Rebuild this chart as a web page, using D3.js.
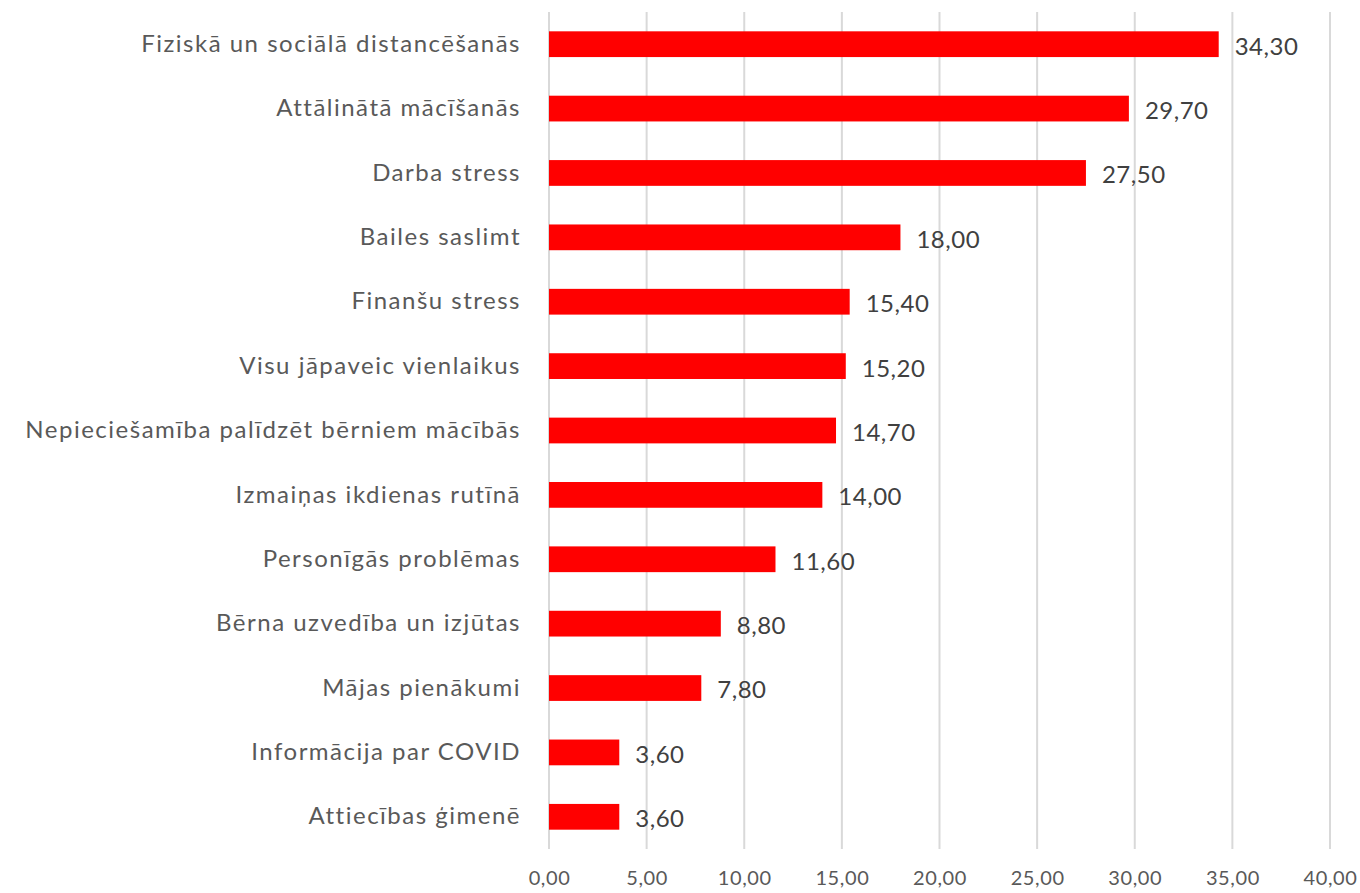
<!DOCTYPE html>
<html>
<head>
<meta charset="utf-8">
<script src="https://cdn.jsdelivr.net/npm/d3@7"></script>
<style>
  body { margin: 0; background: #fff; }
  text { font-family: Lato, "Open Sans", sans-serif; }
</style>
</head>
<body>
<svg width="1360" height="893"></svg>
<script>
// data
var categories = [
  "Fiziskā un sociālā distancēšanās",
  "Attālinātā mācīšanās",
  "Darba stress",
  "Bailes saslimt",
  "Finanšu stress",
  "Visu jāpaveic vienlaikus",
  "Nepieciešamība palīdzēt bērniem mācībās",
  "Izmaiņas ikdienas rutīnā",
  "Personīgās problēmas",
  "Bērna uzvedība un izjūtas",
  "Mājas pienākumi",
  "Informācija par COVID",
  "Attiecības ģimenē"
];
var values = [34.3, 29.7, 27.5, 18.0, 15.4, 15.2, 14.7, 14.0, 11.6, 8.8, 7.8, 3.6, 3.6];
var ticks = [0, 5, 10, 15, 20, 25, 30, 35, 40];

var svg = d3.select("svg"),
    margin = {top: 12, right: 30, bottom: 44, left: 549},
    width = 1330 - margin.left,
    height = 849 - margin.top,
    g = svg.append("g").attr("transform", "translate(" + margin.left + "," + margin.top + ")");

var x = d3.scaleLinear().domain([0, 40]).range([0, width]);
var y = d3.scaleBand().domain(categories).range([0, height]).paddingInner(0.6).paddingOuter(0.3);

var fmt = function(v) { return v.toFixed(2).replace(".", ","); };

// gridlines
g.selectAll(".grid")
  .data(ticks)
  .enter().append("line")
    .attr("class", "grid")
    .attr("x1", function(d) { return x(d); })
    .attr("x2", function(d) { return x(d); })
    .attr("y1", 0)
    .attr("y2", height)
    .attr("stroke", "#d9d9d9")
    .attr("stroke-width", 2);

// x axis labels
var xAxis = g.append("g")
    .attr("transform", "translate(0," + height + ")")
    .call(d3.axisBottom(x).tickValues(ticks).tickFormat(fmt).tickSize(0).tickPadding(22));
xAxis.select(".domain").remove();
xAxis.selectAll("text")
    .attr("fill", "#595959")
    .style("font-size", "20px")
    .style("letter-spacing", "0.6px");

// y axis labels
var yAxis = g.append("g")
    .call(d3.axisLeft(y).tickSize(0).tickPadding(28));
yAxis.select(".domain").remove();
yAxis.selectAll("text")
    .attr("fill", "#595959")
    .style("font-size", "24px")
    .style("letter-spacing", "1.5px");

// bars
g.selectAll(".bar")
  .data(values)
  .enter().append("rect")
    .attr("class", "bar")
    .attr("x", x(0))
    .attr("y", function(d, i) { return y(categories[i]); })
    .attr("width", function(d) { return x(d) - x(0); })
    .attr("height", y.bandwidth())
    .attr("fill", "#ff0000");

// value labels
g.selectAll(".val")
  .data(values)
  .enter().append("text")
    .attr("class", "val")
    .attr("x", function(d) { return x(d) + 16; })
    .attr("y", function(d, i) { return y(categories[i]) + y.bandwidth() / 2 + 2; })
    .attr("dy", "0.35em")
    .attr("fill", "#404040")
    .style("font-size", "24px")
    .style("letter-spacing", "0.5px")
    .text(fmt);
</script>
</body>
</html>
